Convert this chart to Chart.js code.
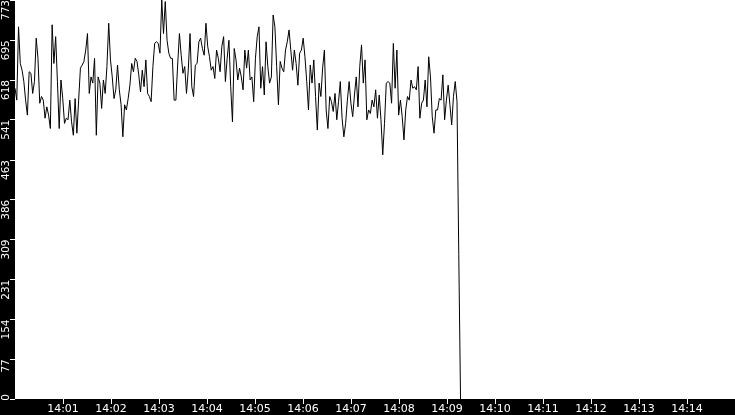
<!DOCTYPE html>
<html><head><meta charset="utf-8">
<script src="https://cdn.jsdelivr.net/npm/chart.js@4/dist/chart.umd.min.js"></script>
<style>html,body{margin:0;padding:0;background:#000;overflow:hidden}canvas{display:block}</style>
</head><body>
<canvas id="c" width="735" height="415"></canvas>
<script>
// series values (one sample every sampleIntervalSec, starting 14:00:00)
const seriesValues = [
602,579,721,650,637,615,579,550,634,631,592,615,699,660,573,586,579,544,566,550,524,725,650,702,615,524,618,582,534,544,541,579,537,511,582,515,579,641,647,654,676,708,592,624,612,660,511,624,612,563,
618,592,644,728,657,624,582,599,647,599,570,508,570,560,582,608,650,634,660,654,628,595,637,605,657,592,586,576,644,689,692,689,670,773,708,770,695,670,660,660,579,579,647,708,666,631,644,592,637,708,605,
586,647,650,692,699,679,666,728,683,663,637,644,621,676,660,634,683,702,615,660,695,605,537,679,657,618,641,624,599,676,641,676,618,624,576,660,702,721,602,644,589,692,644,612,624,744,721,644,570,654,641,
634,676,692,715,676,637,676,650,608,670,676,699,663,615,560,647,612,657,586,521,612,586,641,676,560,524,586,576,557,592,541,576,615,544,508,534,579,615,573,547,589,624,566,644,686,612,657,541,560,553,579,
566,599,544,589,541,473,534,612,615,612,573,689,602,676,550,579,547,502,560,586,579,618,602,605,599,644,544,573,579,618,566,663,624,547,515,560,560,582,579,628,541,579,608,570,531,586,615,576,
280,0
];
const sampleIntervalSec = 2.21;
const xTickSeconds = [60,120,180,240,300,360,420,480,540,600,660,720,780,840];
const xTickLabels = ['14:01','14:02','14:03','14:04','14:05','14:06','14:07','14:08','14:09','14:10','14:11','14:12','14:13','14:14'];
const yTickValues = [0,77,154,231,309,386,463,541,618,695,773];
const yTickLabels = ['0','77','154','231','309','386','463','541','618','695','773'];

const points = seriesValues.map((v, i) => ({x: i * sampleIntervalSec, y: v}));

const plotBg = {
  id: 'plotBg',
  beforeDraw(chart) {
    const {ctx, chartArea: a} = chart;
    ctx.save();
    ctx.fillStyle = '#000';
    ctx.fillRect(0, 0, chart.width, chart.height);
    ctx.fillStyle = '#fff';
    ctx.fillRect(a.left, a.top, a.right - a.left, a.bottom - a.top);
    ctx.restore();
  }
};

// rotated y labels hang below their tick: pad each label with trailing spaces
// (a DejaVu digit is exactly two spaces wide) so the centred text starts at the tick
const yLabelText = (i) => {
  const s = yTickLabels[i];
  if (i === 0) return ' ' + s;
  return s + ' '.repeat(s.length * 2);
};

new Chart(document.getElementById('c'), {
  type: 'line',
  data: {datasets: [{data: points, borderColor: '#000', borderWidth: 1, pointRadius: 0, tension: 0, fill: false}]},
  options: {
    responsive: false, devicePixelRatio: 1, animation: false,
    layout: {padding: 0},
    plugins: {legend: {display: false}, tooltip: {enabled: false}},
    scales: {
      x: {
        type: 'linear', min: 0, max: 900,
        afterBuildTicks: s => { s.ticks = xTickSeconds.map(v => ({value: v})); },
        afterFit: s => { s.height = 16; },
        grid: {drawOnChartArea: false, drawTicks: true, tickLength: 5, tickColor: '#fff', color: '#fff'},
        border: {display: false},
        ticks: {color: '#fff', font: {family: 'DejaVu Sans', size: 11}, padding: -1, minRotation: 0, maxRotation: 0, autoSkip: false,
          callback: (v, i) => xTickLabels[i]}
      },
      y: {
        min: 0, max: 773,
        afterBuildTicks: s => { s.ticks = yTickValues.map(v => ({value: v})); },
        afterFit: s => { s.width = 15; },
        grid: {drawOnChartArea: false, drawTicks: true, tickLength: 5, tickColor: '#fff', color: '#fff'},
        border: {display: false},
        ticks: {color: '#fff', font: {family: 'DejaVu Sans', size: 10.5}, padding: -16, minRotation: 90, maxRotation: 90, crossAlign: 'center', autoSkip: false,
          callback: (v, i) => yLabelText(i)}
      }
    }
  },
  plugins: [plotBg]
});
</script>
</body></html>
